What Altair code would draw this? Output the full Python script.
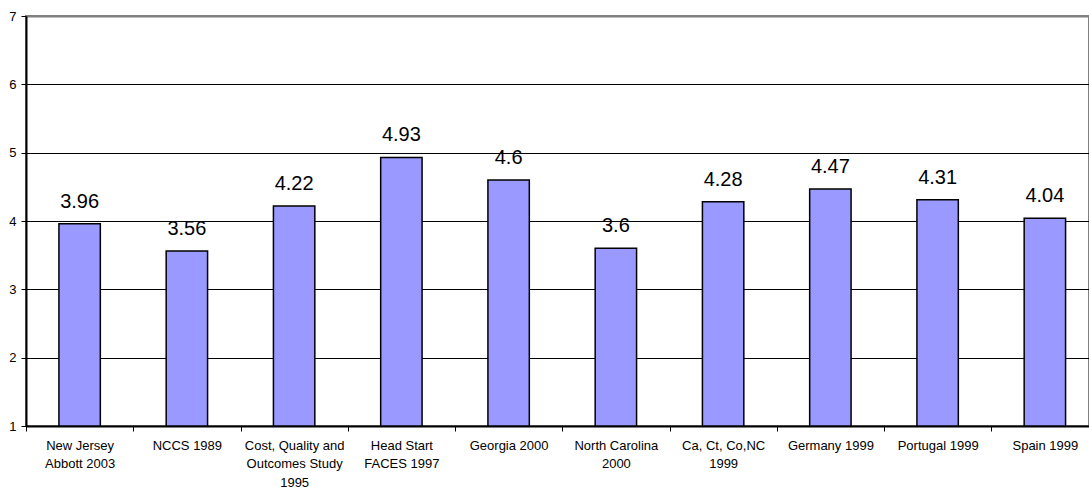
import altair as alt
import pandas as pd

categories = [
    "New Jersey|Abbott 2003",
    "NCCS 1989",
    "Cost, Quality and|Outcomes Study|1995",
    "Head Start|FACES 1997",
    "Georgia 2000",
    "North Carolina|2000",
    "Ca, Ct, Co,NC|1999",
    "Germany 1999",
    "Portugal 1999",
    "Spain 1999",
]
values = [3.96, 3.56, 4.22, 4.93, 4.6, 3.6, 4.28, 4.47, 4.31, 4.04]
value_labels = ["3.96", "3.56", "4.22", "4.93", "4.6", "3.6", "4.28", "4.47", "4.31", "4.04"]
y_ticks = [1, 2, 3, 4, 5, 6, 7]

df = pd.DataFrame({"study": categories, "score": values, "label": value_labels, "base": [1] * len(values)})

FONT = "Liberation Sans, Arial, sans-serif"

x = alt.X(
    "study:N",
    sort=categories,
    scale=alt.Scale(paddingInner=0, paddingOuter=0, range=[0, 1072.5]),
    axis=alt.Axis(
        title=None,
        labelAngle=0,
        labelExpr="split(datum.label, '|')",
        tickBand="extent",
        labelFontSize=13,
        labelLineHeight=18.5,
        labelPadding=8,
        labelColor="black",
        labelLimit=0,
        labelOverlap=False,
        labelFlush=False,
        tickSize=5,
        tickColor="black",
        tickWidth=1,
        domainColor="black",
        domainWidth=2,
        grid=False,
    ),
)

y = alt.Y(
    "score:Q",
    scale=alt.Scale(domain=[1, 7], nice=False, zero=False),
    axis=alt.Axis(
        title=None,
        values=y_ticks,
        format="d",
        labelFontSize=13,
        labelPadding=5,
        labelColor="black",
        tickSize=5,
        tickColor="black",
        tickWidth=1,
        domainColor="black",
        domainWidth=2,
        grid=True,
        gridColor={"condition": {"test": "datum.value == 7", "value": "#808080"}, "value": "black"},
        gridWidth={"condition": {"test": "datum.value == 7", "value": 2}, "value": 1},
        gridOpacity=1,
    ),
)

bars = alt.Chart(df).mark_bar(
    width={"band": 0.386}, color="#9999FF", stroke="black", strokeWidth=1.5
).encode(x=x, y=y, y2="base:Q")

text = alt.Chart(df).mark_text(
    dy=-16, baseline="alphabetic", align="center", fontSize=20, color="black", font=FONT
).encode(x=alt.X("study:N", sort=categories), y=alt.Y("score:Q"), text="label:N")

chart = (
    alt.layer(bars, text)
    .properties(
        width=1063,
        height=410,
        autosize=alt.AutoSizeParams(type="none"),
        padding={"left": 26, "top": 16, "right": 0, "bottom": 61},
        background="white",
    )
    .configure_view(stroke="#808080", strokeWidth=2)
    .configure_axis(labelFont=FONT)
    .configure_text(font=FONT)
)

chart.save("out.html", embed_options={"renderer": "svg", "actions": False})
